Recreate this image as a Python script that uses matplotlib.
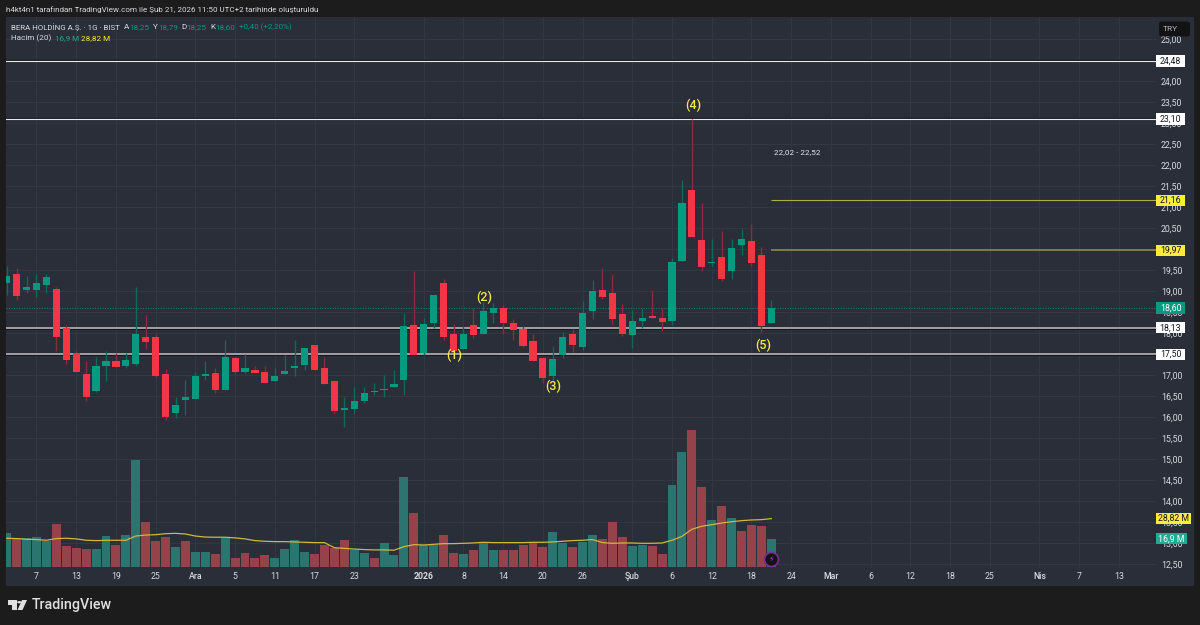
# BERA daily candles with volume, screenshot style dark theme

import matplotlib
matplotlib.use("Agg")
import matplotlib.pyplot as plt
from matplotlib.patches import Rectangle, FancyBboxPatch, Polygon, Circle

plt.rcParams['font.family'] = ['Roboto', 'DejaVu Sans']

opens = [19.19, 19.40, 19.03, 19.03, 19.15, 19.04, 18.12, 17.53, 17.04, 16.63,
         17.22, 17.33, 17.23, 17.27, 17.92, 17.90, 17.03, 16.09, 16.42, 16.44,
         16.98, 17.06, 16.66, 17.42, 17.08, 17.12, 17.08, 16.87, 17.04, 17.16,
         17.24, 17.72, 17.16, 16.86, 16.17, 16.20, 16.39, 16.60, 16.66, 16.73,
         16.89, 18.19, 17.54, 18.24, 19.20, 17.97, 17.63, 18.19, 17.99, 18.49,
         18.59, 18.25, 18.09, 17.81, 17.42, 16.98, 17.48, 17.97, 17.68, 18.53,
         19.03, 18.95, 18.46, 17.96, 18.30, 18.42, 18.35, 18.30, 19.72, 21.40,
         20.22, 19.66, 19.81, 19.47, 20.09, 20.19, 19.86, 18.25]
highs = [19.60, 19.54, 19.37, 19.41, 19.42, 19.09, 18.19, 17.58, 17.33, 17.43,
         17.58, 17.52, 17.53, 19.09, 18.43, 17.98, 17.14, 16.47, 16.88, 17.08,
         17.33, 17.16, 17.84, 17.43, 17.50, 17.22, 17.23, 17.18, 17.48, 17.84,
         17.64, 17.72, 17.43, 16.89, 16.49, 16.71, 16.73, 16.81, 17.01, 17.12,
         18.47, 19.48, 18.35, 18.92, 19.28, 18.23, 18.16, 18.59, 18.75, 18.73,
         18.67, 18.34, 18.17, 17.98, 17.42, 17.69, 18.03, 18.09, 18.77, 19.27,
         19.54, 19.42, 18.70, 18.54, 18.59, 19.02, 18.61, 19.78, 21.64, 23.09,
         21.09, 20.24, 20.43, 20.24, 20.49, 20.60, 20.04, 18.79]
lows = [18.91, 18.79, 18.95, 18.85, 18.96, 17.58, 17.26, 17.08, 16.39, 16.60,
        16.87, 17.20, 17.16, 17.23, 17.62, 16.95, 15.94, 15.98, 16.06, 16.43,
        16.89, 16.58, 16.66, 17.03, 17.05, 17.05, 16.81, 16.87, 17.04, 16.99,
        17.13, 17.12, 16.78, 16.08, 15.77, 16.11, 16.35, 16.53, 16.49, 16.73,
        16.53, 17.47, 17.47, 18.13, 17.84, 17.52, 17.63, 17.89, 17.99, 18.25,
        17.99, 17.84, 17.66, 17.34, 16.81, 16.87, 17.42, 17.56, 17.61, 18.33,
        18.81, 18.20, 17.93, 17.65, 18.12, 18.35, 18.06, 18.20, 19.72, 20.28,
        19.48, 19.60, 19.25, 19.29, 19.87, 19.60, 18.04, 18.25]
closes = [19.37, 18.89, 19.11, 19.19, 19.33, 17.92, 17.37, 17.08, 16.48, 17.23,
          17.33, 17.20, 17.36, 17.98, 17.79, 16.98, 16.01, 16.28, 16.47, 16.98,
          17.04, 16.66, 17.43, 17.08, 17.17, 17.05, 16.81, 16.98, 17.11, 17.23,
          17.64, 17.12, 16.78, 16.15, 16.22, 16.38, 16.58, 16.62, 16.67, 16.78,
          18.16, 17.47, 18.22, 18.92, 17.92, 17.58, 17.98, 17.96, 18.53, 18.59,
          18.24, 18.07, 17.70, 17.34, 16.93, 17.38, 17.92, 17.71, 18.47, 19.00,
          18.87, 18.33, 17.99, 18.28, 18.36, 18.35, 18.27, 19.69, 21.09, 20.28,
          19.58, 19.69, 19.28, 20.03, 20.23, 19.67, 18.17, 18.60]

volumes = [20.1, 17.2, 17.2, 17.9, 15.8, 25.8, 12.4, 11.6, 10.8, 10.8,
           18.3, 13.0, 18.9, 63.5, 26.6, 15.4, 17.9, 12.0, 15.8, 8.9,
           9.3, 8.1, 17.6, 5.7, 8.5, 5.7, 7.3, 5.5, 10.8, 16.2,
           9.3, 7.7, 13.4, 11.6, 16.2, 10.3, 8.5, 5.7, 14.2, 7.3,
           53.5, 32.1, 13.2, 13.2, 19.3, 8.5, 7.7, 10.5, 15.0, 10.1,
           10.1, 10.5, 13.2, 15.0, 12.0, 20.9, 14.6, 12.0, 15.0, 19.3,
           17.0, 26.6, 18.1, 12.4, 13.2, 12.8, 8.1, 48.7, 68.0, 81.3,
           47.5, 27.8, 36.3, 29.4, 21.3, 24.9, 24.3, 16.9]
volume_up = "GRGGGRRRRGGRGGRRRGRGGRGRRRRGGGGRRRRGGRGG" \
            "GRGGRRGRGGRRRRRGGRGGRRRGGRRGGRRGRGRRRG"
volume_ma = [17.2, 17.0, 16.6, 16.4, 16.0, 17.0, 17.2, 16.8, 16.0, 15.8,
             16.0, 16.0, 16.0, 18.5, 19.1, 19.3, 19.9, 20.1, 19.7, 18.5,
             17.9, 17.8, 17.8, 17.4, 16.8, 15.8, 15.4, 15.2, 15.2, 15.0,
             14.8, 14.6, 14.6, 11.6, 11.2, 10.8, 10.5, 10.3, 10.3, 10.1,
             12.2, 13.4, 13.2, 13.6, 14.0, 14.0, 14.2, 14.4, 14.8, 14.6,
             14.6, 14.6, 14.6, 14.8, 14.8, 15.0, 15.4, 15.8, 16.0, 16.4,
             14.6, 14.2, 14.4, 14.4, 14.2, 14.2, 14.4, 16.0, 18.3, 22.5,
             24.3, 25.2, 26.2, 27.0, 27.6, 28.0, 28.2, 28.82]

date_ticks = [3, 7, 11, 15, 19, 23, 27, 31, 35, 42, 46, 50, 54, 58, 63, 67, 71,
              75, 79, 83, 87, 91, 95, 99, 104, 108, 112]
date_labels = ["7", "13", "19", "25", "Ara", "5", "11", "17", "23", "2026", "8",
               "14", "20", "26", "Şub", "6", "12", "18", "24", "Mar", "6", "12",
               "18", "25", "Nis", "7", "13"]
price_ticks = [12.5, 13.0, 13.5, 14.0, 14.5, 15.0, 15.5, 16.0, 16.5, 17.0, 17.5,
               18.0, 18.5, 19.0, 19.5, 20.0, 20.5, 21.0, 21.5, 22.0, 22.5, 23.0,
               23.5, 24.0, 24.5, 25.0]
white_levels = [24.48, 23.10, 18.13, 17.50]
yellow_levels = [21.16, 19.97]
last_price = 18.60
last_volume = 16.9
last_ma = 28.82
wave_labels = ["(1)", "(2)", "(3)", "(4)", "(5)"]
wave_x = [45.05, 48.06, 55, 69.1, 76.2]
wave_y = [17.46, 18.86, 16.74, 23.43, 17.72]

BG = '#1c1c1c'
PANEL = '#2a2e39'
GRID = '#343843'
TXT = '#d8dae0'
UP = '#089981'
DOWN = '#f23645'
YELLOW = '#ffeb3b'
FS = 6.3

W, H = 1200, 625
fig = plt.figure(figsize=(W / 100, H / 100), dpi=100, facecolor=BG)


def px_box(x0, y0, x1, y1):
    return (x0 / W, 1 - y1 / H, (x1 - x0) / W, (y1 - y0) / H)


# panel behind the chart and the axis strips
fig.add_artist(Rectangle(px_box(6, 17, 1194, 586)[:2], (1194 - 6) / W, (586 - 17) / H,
                         transform=fig.transFigure, color=PANEL, lw=0, zorder=-5))

ax = fig.add_axes(px_box(6, 17, 1156, 568), facecolor=PANEL)
ax.set_xlim(-0.07, 115.74)
ax.set_ylim(12.413, 25.523)
for s in ax.spines.values():
    s.set_visible(False)
ax.set_axisbelow(True)
ax.grid(True, color=GRID, linewidth=0.7)

# volume sits on its own scale at the bottom
ax_vol = ax.twinx()
ax_vol.set_ylim(-0.41, 325.6)
ax_vol.set_yticks([])
for s in ax_vol.spines.values():
    s.set_visible(False)
xs = list(range(len(closes)))
vol_cols = ['#2b7470' if c == 'G' else '#95424a' for c in volume_up]
ax_vol.bar(xs, volumes, width=0.9, color=vol_cols, linewidth=0, zorder=2)
ax_vol.plot(xs, volume_ma, color='#cdb93a', linewidth=0.9, zorder=3)

# level lines
for lev in white_levels:
    lw = 0.85 if lev > 20 else 1.2
    ax.axhline(lev, color='#14161c', linewidth=lw + 0.9, zorder=1.8)
    ax.axhline(lev, color='#e6e6e6' if lev > 20 else '#b9b9bb', linewidth=lw, zorder=1.9)
ax.hlines(yellow_levels[0], 77, 115.74, color='#b3aa48', linewidth=0.8, zorder=1.9)
ax.hlines(yellow_levels[1], 77, 115.74, color='#8f8a42', linewidth=1.2, zorder=1.9)
ax.axhline(last_price, color='#178a74', linewidth=0.7, linestyle=(0, (1, 1.6)), zorder=1.7)

# candles go on the top axes so they stay above the levels
up = [c >= o for o, c in zip(opens, closes)]
wick_cols = ['#0e6b5c' if u else '#8c2b3b' for u in up]
body_cols = [UP if u else DOWN for u in up]
bottoms = [min(o, c) for o, c in zip(opens, closes)]
heights = [abs(c - o) for o, c in zip(opens, closes)]
ax_top = ax.twinx()
ax_top.set_ylim(ax.get_ylim())
ax_top.set_yticks([])
for s in ax_top.spines.values():
    s.set_visible(False)
ax_top.vlines(xs, lows, highs, color=wick_cols, linewidth=1.0, zorder=3)
ax_top.bar(xs, heights, bottom=bottoms, width=0.72, color=body_cols, linewidth=0, zorder=4)

for txt, x, y in zip(wave_labels, wave_x, wave_y):
    ax_top.text(x, y, txt, color='#f5e74a', fontsize=9, fontweight='medium',
                ha='center', va='center', zorder=6)
ax_top.text(79.6, 22.31, "22,02 - 22,52", color='#e4e6ea', fontsize=5.9, ha='center', va='center', zorder=6)

# purple bolt marker over the last volume bar
ax_vol.plot([77], [4.9], marker='o', ms=10, mfc='#131313', mec='#7b2a97', mew=1.2, zorder=5)
ax_vol.text(77, 4.9, "⚡", color='#a642c4', fontsize=5.5, ha='center', va='center',
            family='DejaVu Sans', zorder=6)

# twinx pulled the ticks to the left, so the scale is set up after it
ax.yaxis.tick_right()
ax.set_yticks(price_ticks)
ax.set_yticklabels([f"{v:.2f}".replace('.', ',') for v in price_ticks])
ax.set_xticks(date_ticks)
ax.set_xticklabels(date_labels)
ax.tick_params(axis='y', length=0, pad=3.4, labelsize=FS, labelcolor=TXT)
ax.tick_params(axis='x', length=0, pad=3, labelsize=FS, labelcolor=TXT)
for lab in ax.get_xticklabels():
    if lab.get_text() == "2026":
        lab.set_fontweight('bold')
    elif lab.get_text() in ("Ara", "Şub", "Mar", "Nis"):
        lab.set_fontweight('medium')


def price_tag(y, text, face, color, width):
    trans = ax_top.get_yaxis_transform()
    ax_top.add_patch(Rectangle((1.0, y - 0.135), width / 1150, 0.27, transform=trans,
                               facecolor=face, edgecolor='none', clip_on=False, zorder=8))
    ax_top.text(1.0 + width / 2 / 1150, y, text, transform=trans, color=color, fontsize=FS,
                ha='center', va='center', clip_on=False, zorder=9)


def vol_to_price(v):
    # volume tags are placed on the price scale at the height of their bars
    return 12.413 + (v + 0.41) * 1.69 / 42.03


for lev in white_levels:
    price_tag(lev, f"{lev:.2f}".replace('.', ','), 'white', '#131722', 29)
for lev in yellow_levels:
    price_tag(lev, f"{lev:.2f}".replace('.', ','), YELLOW, '#131722', 29)
price_tag(last_price, "18,60", UP, 'white', 29)
price_tag(vol_to_price(last_ma), "28,82 M", YELLOW, '#131722', 35)
price_tag(vol_to_price(last_volume), "16,9 M", '#22ab94', 'white', 31)

# currency box
fig.add_artist(FancyBboxPatch((1159 / W, 1 - 36.5 / H), 31 / W, 15 / H,
                              boxstyle="round,pad=0,rounding_size=0.002",
                              transform=fig.transFigure, facecolor='#131313', edgecolor='none',
                              mutation_aspect=1.9, zorder=10))
fig.text(1170 / W, 1 - 29 / H, "TRY", color='#b2b5be', fontsize=6.0, ha='center', va='center', zorder=11)

# header text
fig.text(6 / W, 1 - 9.5 / H,
         "h4kt4n1 tarafından TradingView.com ile Şub 21, 2026 11:50 UTC+2 tarihinde oluşturuldu",
         color=TXT, fontsize=5.8, ha='left', va='center')
legend_y = 1 - 27 / H
fig.text(11 / W, legend_y, "BERA HOLDİNG A.Ş. · 1G · BIST", color=TXT, fontsize=5.7, va='center')
for x, letter, val in [(124, "A", "18,25"), (153, "Y", "18,79"), (181.5, "D", "18,25"), (210.5, "K", "18,60")]:
    fig.text(x / W, legend_y, letter, color=TXT, fontsize=5.9, va='center')
    fig.text((x + 5.3) / W, legend_y, val, color=UP, fontsize=5.9, va='center')
fig.text(239 / W, legend_y, "+0,40 (+2,20%)", color=UP, fontsize=5.8, va='center')
fig.text(11 / W, 1 - 38.5 / H, "Hacim (20)", color=TXT, fontsize=5.9, va='center')
fig.text(55 / W, 1 - 38.5 / H, "16,9 M", color='#22ab94', fontsize=5.9, va='center')
fig.text(81 / W, 1 - 38.5 / H, "28,82 M", color=YELLOW, fontsize=5.9, va='center')


# footer logo
def logo_poly(pts, **kw):
    fig.add_artist(Polygon([(x / W, 1 - y / H) for x, y in pts], closed=True,
                           transform=fig.transFigure, color='#e0e0e0', lw=0, **kw))


logo_poly([(8, 600), (16.5, 600), (16.5, 610), (12, 610), (12, 604.5), (8, 604.5)])
logo_poly([(22, 600), (27, 600), (22.5, 610), (17.5, 610)])
fig.add_artist(Circle((19.3 / W, 1 - 602.2 / H), 2.2 / W, transform=fig.transFigure, color='#e0e0e0', lw=0))
fig.text(32 / W, 1 - 605.5 / H, "TradingView", color='#e0e0e0', fontsize=10.3, fontweight='medium',
         ha='left', va='center')

fig.savefig("out.png", dpi=100, facecolor=BG)
